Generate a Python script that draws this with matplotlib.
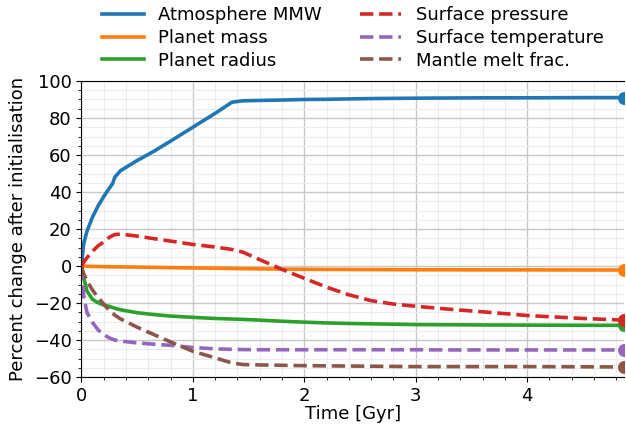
import matplotlib.pyplot as plt
from matplotlib.ticker import AutoMinorLocator, MultipleLocator

# Time [Gyr]
time = [0.0, 0.02, 0.05, 0.1, 0.15, 0.2, 0.25, 0.28, 0.3, 0.35, 0.5, 0.65, 0.8, 1.0, 1.2,
        1.35, 1.45, 1.6, 1.8, 2.0, 2.2, 2.4, 2.6, 2.8, 3.0, 3.3, 3.6, 4.0, 4.5, 4.87]

mmw = [0.0, 11.9, 18.8, 26.5, 32.5, 37.5, 42.0, 44.5, 48.0, 51.5, 57.0, 62.0, 67.5, 75.0, 82.5,
       88.5, 89.3, 89.5, 89.7, 90.0, 90.1, 90.3, 90.5, 90.6, 90.7, 90.8, 90.9, 90.9, 91.0, 91.0]
mass = [0.0, -0.05, -0.1, -0.2, -0.25, -0.3, -0.35, -0.4, -0.4, -0.45, -0.55, -0.7, -0.85, -1.0, -1.15,
        -1.3, -1.4, -1.5, -1.65, -1.75, -1.8, -1.85, -1.9, -1.95, -2.0, -2.0, -2.05, -2.05, -2.1, -2.1]
radius = [0.0, -6.0, -13.5, -18.0, -19.8, -21.0, -21.8, -22.4, -22.8, -23.6, -25.2, -26.2, -27.0, -27.7, -28.3,
          -28.6, -28.8, -29.2, -29.8, -30.3, -30.7, -31.0, -31.2, -31.4, -31.6, -31.7, -31.8, -31.9, -32.0, -32.0]
pressure = [0.0, 2.0, 4.5, 8.0, 11.0, 13.0, 15.5, 16.5, 17.0, 17.3, 16.2, 14.8, 13.5, 11.7, 10.3,
            9.0, 7.5, 3.5, -1.8, -6.6, -11.4, -15.5, -18.7, -20.5, -21.7, -23.3, -24.7, -26.7, -28.3, -29.2]
temperature = [0.0, -16.0, -25.0, -30.5, -34.5, -37.0, -38.8, -39.5, -40.0, -40.5, -41.5, -42.2, -42.8, -44.0, -44.7,
               -45.0, -45.1, -45.2, -45.2, -45.2, -45.2, -45.2, -45.2, -45.2, -45.2, -45.3, -45.3, -45.3, -45.3, -45.3]
melt = [0.0, -4.0, -8.0, -13.0, -17.0, -20.5, -24.0, -25.5, -26.5, -28.5, -33.0, -37.0, -41.0, -46.0, -49.6,
        -52.3, -53.2, -53.4, -53.6, -53.8, -53.9, -54.0, -54.1, -54.2, -54.3, -54.3, -54.3, -54.3, -54.4, -54.5]

series = [
    ("Atmosphere MMW", mmw, "tab:blue", "-"),
    ("Planet mass", mass, "tab:orange", "-"),
    ("Planet radius", radius, "tab:green", "-"),
    ("Surface pressure", pressure, "tab:red", "--"),
    ("Surface temperature", temperature, "tab:purple", "--"),
    ("Mantle melt frac.", melt, "tab:brown", "--"),
]

plt.rcParams['font.size'] = 13
fig = plt.figure(figsize=(6.26, 4.33), dpi=100)
ax = fig.add_axes([0.13, 0.129, 0.867, 0.684])

for label, vals, color, ls in series:
    ax.plot(time, vals, ls, color=color, lw=2.6, label=label)
    ax.scatter(time[-1], vals[-1], color=color, s=70, zorder=5)

ax.set_xlim(0, time[-1])
ax.set_ylim(-60, 100)
ax.yaxis.set_major_locator(MultipleLocator(20))
ax.xaxis.set_minor_locator(AutoMinorLocator(5))
ax.yaxis.set_minor_locator(AutoMinorLocator(4))
ax.grid(which='major', color='#c8c8c8', lw=1.0)
ax.grid(which='minor', color='#ececec', lw=0.8)
ax.set_axisbelow(True)
ax.spines['right'].set_visible(False)

ax.set_xlabel("Time [Gyr]", labelpad=0)
ax.set_ylabel("Percent change after initialisation", labelpad=5)
ax.legend(ncol=2, frameon=False, loc='lower center', bbox_to_anchor=(0.5, 1.02),
          borderaxespad=0.1, handlelength=2.3, columnspacing=2.1, labelspacing=0.26,
          borderpad=0.2)

fig.savefig("out.png", dpi=100)
